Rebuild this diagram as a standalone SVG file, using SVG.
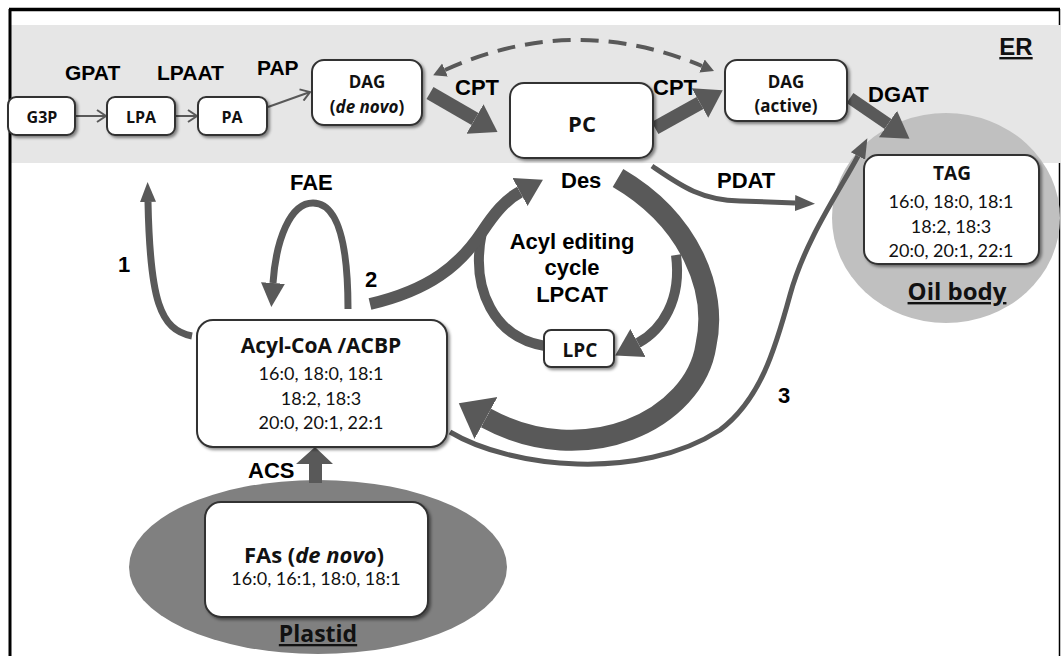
<svg xmlns="http://www.w3.org/2000/svg" width="1061" height="656" viewBox="0 0 1061 656">
<style>
.box{fill:#fff;stroke:#333;stroke-width:2;filter:url(#sh)}
.bt{font-family:"Open Sans","Noto Sans","Liberation Sans",sans-serif;font-weight:bold;fill:#111;text-anchor:middle}
.nt{font-family:Lato,"Liberation Sans",sans-serif;font-weight:normal;fill:#111;text-anchor:middle;font-size:18px}
.lb{font-family:"Liberation Sans",Arial,sans-serif;font-weight:bold;fill:#000}
.ar{fill:none;stroke:#595959;stroke-linecap:butt}
.hd{fill:#595959}
</style>
<defs>
<filter id="sh" x="-10%" y="-10%" width="130%" height="140%">
<feDropShadow dx="2" dy="2" stdDeviation="1.5" flood-color="#000" flood-opacity="0.45"/>
</filter>
<marker id="chev" markerUnits="userSpaceOnUse" viewBox="0 -7 12 14" markerWidth="12" markerHeight="14" refX="10" refY="0" orient="auto"><path d="M1,-6 L10,0 L1,6" fill="none" stroke="#595959" stroke-width="2"/></marker>
<marker id="hThin" markerUnits="userSpaceOnUse" viewBox="0 -10 22 20" markerWidth="22" markerHeight="20" refX="0" refY="0" orient="auto"><path class="hd" d="M0,-8 L20,0 L0,8 Z"/></marker>
<marker id="hFAE" markerUnits="userSpaceOnUse" viewBox="0 -14 26 28" markerWidth="26" markerHeight="28" refX="0" refY="0" orient="auto"><path class="hd" d="M0,-12 L24,0 L0,12 Z"/></marker>
<marker id="hMid" markerUnits="userSpaceOnUse" viewBox="0 -18 28 36" markerWidth="28" markerHeight="36" refX="0" refY="0" orient="auto"><path class="hd" d="M0,-16 L26,0 L0,16 Z"/></marker>
<marker id="hBig" markerUnits="userSpaceOnUse" viewBox="0 -19 28 38" markerWidth="28" markerHeight="38" refX="0" refY="0" orient="auto"><path class="hd" d="M0,-17 L26,0 L0,17 Z"/></marker>
<marker id="hXL" markerUnits="userSpaceOnUse" viewBox="0 -26 34 52" markerWidth="34" markerHeight="52" refX="0" refY="0" orient="auto"><path class="hd" d="M0,-24 L31,0 L0,24 Z"/></marker>
<marker id="hDash" markerUnits="userSpaceOnUse" viewBox="0 -8 14 16" markerWidth="14" markerHeight="16" refX="0" refY="0" orient="auto-start-reverse"><path class="hd" d="M0,-7 L13,0 L0,7 Z"/></marker>
</defs>

<rect width="1061" height="656" fill="#fff"/>
<line x1="1059.5" y1="9" x2="1059.5" y2="656" stroke="#000" stroke-width="1.5"/>
<rect x="11" y="25" width="1050" height="138" fill="#e6e6e6"/>
<line x1="10" y1="9" x2="10" y2="656" stroke="#000" stroke-width="3"/>
<line x1="9" y1="9.5" x2="1060" y2="9.5" stroke="#000" stroke-width="3.5"/>

<g id="compartments">
<ellipse id="oil-body" cx="946" cy="218" rx="114" ry="105" fill="#c0c0c0"/>
<ellipse id="plastid" cx="318" cy="567" rx="189" ry="87" fill="#808080"/>
<text class="bt" x="1016" y="55" style="font-family:'Liberation Sans',Arial,sans-serif;font-size:24px;text-decoration:underline">ER</text>
<text class="bt" x="957" y="300" font-size="24" text-decoration="underline">Oil body</text>
<text class="bt" x="318" y="642" font-size="23" text-decoration="underline">Plastid</text>
</g>

<g id="connectors">
<path class="ar" d="M75,116 H106" stroke-width="2" marker-end="url(#chev)"/>
<path class="ar" d="M175,116 H197" stroke-width="2" marker-end="url(#chev)"/>
<path class="ar" d="M268,107 L310,92" stroke-width="2" marker-end="url(#chev)"/>
<path class="ar" d="M445,70 Q573,12 702,66" stroke-width="4" stroke-dasharray="18 10" marker-start="url(#hDash)" marker-end="url(#hDash)"/>
<path class="ar" d="M430,93 L475,119" stroke-width="14" marker-end="url(#hBig)"/>
<path class="ar" d="M655,128 L700,103" stroke-width="14" marker-end="url(#hBig)"/>
<path class="ar" d="M850,98 L888,124" stroke-width="12" marker-end="url(#hMid)"/>
<path class="ar" d="M192,336 C160,330 150,300 148,202" stroke-width="7" marker-end="url(#hThin)"/>
<path class="ar" d="M348,309 C348,250 340,203 313,203 C290,203 276,240 273,283" stroke-width="7" marker-end="url(#hFAE)"/>
<path class="ar" d="M545,346 C495,338 470,290 482,232" stroke-width="10"/>
<path class="ar" d="M370,304 C430,290 460,265 482,232 C494,214 505,200 520,192" stroke-width="12" marker-end="url(#hMid)"/>
<path class="ar" d="M618,178 C690,220 718,290 706,345 C695,420 585,472 486,418" stroke-width="21" marker-end="url(#hXL)"/>
<path class="ar" d="M676,255 C682,300 662,330 638,343" stroke-width="10" marker-end="url(#hMid)"/>
<path class="ar" d="M450,432 C510,468 640,482 720,430 C760,400 775,350 790,295 C805,240 840,190 858,156" stroke-width="5" marker-end="url(#hThin)"/>
<path class="ar" d="M652,166 C680,185 700,200 740,201 L795,203" stroke-width="5" marker-end="url(#hThin)"/>
<path class="hd" d="M309,483 V464 H296 L315,447 L333,464 H322 V483 Z"/>
</g>

<g id="labels">
<text class="lb" x="65" y="80" font-size="21">GPAT</text>
<text class="lb" x="157" y="80" font-size="21">LPAAT</text>
<text class="lb" x="257" y="75" font-size="21">PAP</text>
<text class="lb" x="455" y="95" font-size="22">CPT</text>
<text class="lb" x="653" y="95" font-size="22">CPT</text>
<text class="lb" x="868" y="102" font-size="22">DGAT</text>
<text class="lb" x="290" y="190" font-size="22">FAE</text>
<text class="lb" x="118" y="272" font-size="22">1</text>
<text class="lb" x="365" y="287" font-size="22">2</text>
<text class="lb" x="561" y="188" font-size="22">Des</text>
<text class="lb" x="717" y="188" font-size="22">PDAT</text>
<text class="lb" x="572" y="249" font-size="22" text-anchor="middle">Acyl editing</text>
<text class="lb" x="572" y="275" font-size="22" text-anchor="middle">cycle</text>
<text class="lb" x="572" y="302" font-size="22" text-anchor="middle">LPCAT</text>
<text class="lb" x="778" y="403" font-size="22">3</text>
<text class="lb" x="248" y="478" font-size="22">ACS</text>
</g>

<g id="G3P"><rect class="box" x="8" y="97" width="67" height="38" rx="8"/><text class="bt" x="42" y="123" font-size="16">G3P</text></g>
<g id="LPA"><rect class="box" x="107" y="97" width="68" height="38" rx="8"/><text class="bt" x="141" y="123" font-size="16">LPA</text></g>
<g id="PA"><rect class="box" x="198" y="97" width="69" height="38" rx="8"/><text class="bt" x="232" y="123" font-size="16">PA</text></g>
<g id="DAG-de-novo"><rect class="box" x="312" y="60" width="110" height="65" rx="12"/><text class="bt" x="367" y="88" font-size="17">DAG</text><text class="bt" x="367" y="113" font-size="17">(<tspan font-style="italic">de novo</tspan>)</text></g>
<g id="PC"><rect class="box" x="510" y="83" width="143" height="75" rx="14"/><text class="bt" x="582" y="132" font-size="22">PC</text></g>
<g id="DAG-active"><rect class="box" x="725" y="60" width="122" height="61" rx="12"/><text class="bt" x="786" y="88" font-size="17">DAG</text><text class="bt" x="786" y="112" font-size="17">(active)</text></g>
<g id="TAG"><rect class="box" x="864" y="155" width="175" height="109" rx="14"/><text class="bt" x="952" y="180" font-size="19">TAG</text><text class="nt" x="951" y="208">16:0, 18:0, 18:1</text><text class="nt" x="951" y="233">18:2, 18:3</text><text class="nt" x="951" y="257">20:0, 20:1, 22:1</text></g>
<g id="Acyl-CoA"><rect class="box" x="197" y="320" width="250" height="127" rx="16"/><text class="bt" x="321" y="353" font-size="21">Acyl-CoA /ACBP</text><text class="nt" x="321" y="380">16:0, 18:0, 18:1</text><text class="nt" x="321" y="405">18:2, 18:3</text><text class="nt" x="321" y="429">20:0, 20:1, 22:1</text></g>
<g id="LPC"><rect class="box" x="544" y="330" width="70" height="37" rx="7"/><text class="bt" x="580" y="357" font-size="19">LPC</text></g>
<g id="FAs"><rect class="box" x="205" y="502" width="223" height="115" rx="16"/><text class="bt" x="314" y="563" font-size="22">FAs (<tspan font-style="italic">de novo</tspan>)</text><text class="nt" x="316" y="585" font-size="18.5">16:0, 16:1, 18:0, 18:1</text></g>
</svg>
